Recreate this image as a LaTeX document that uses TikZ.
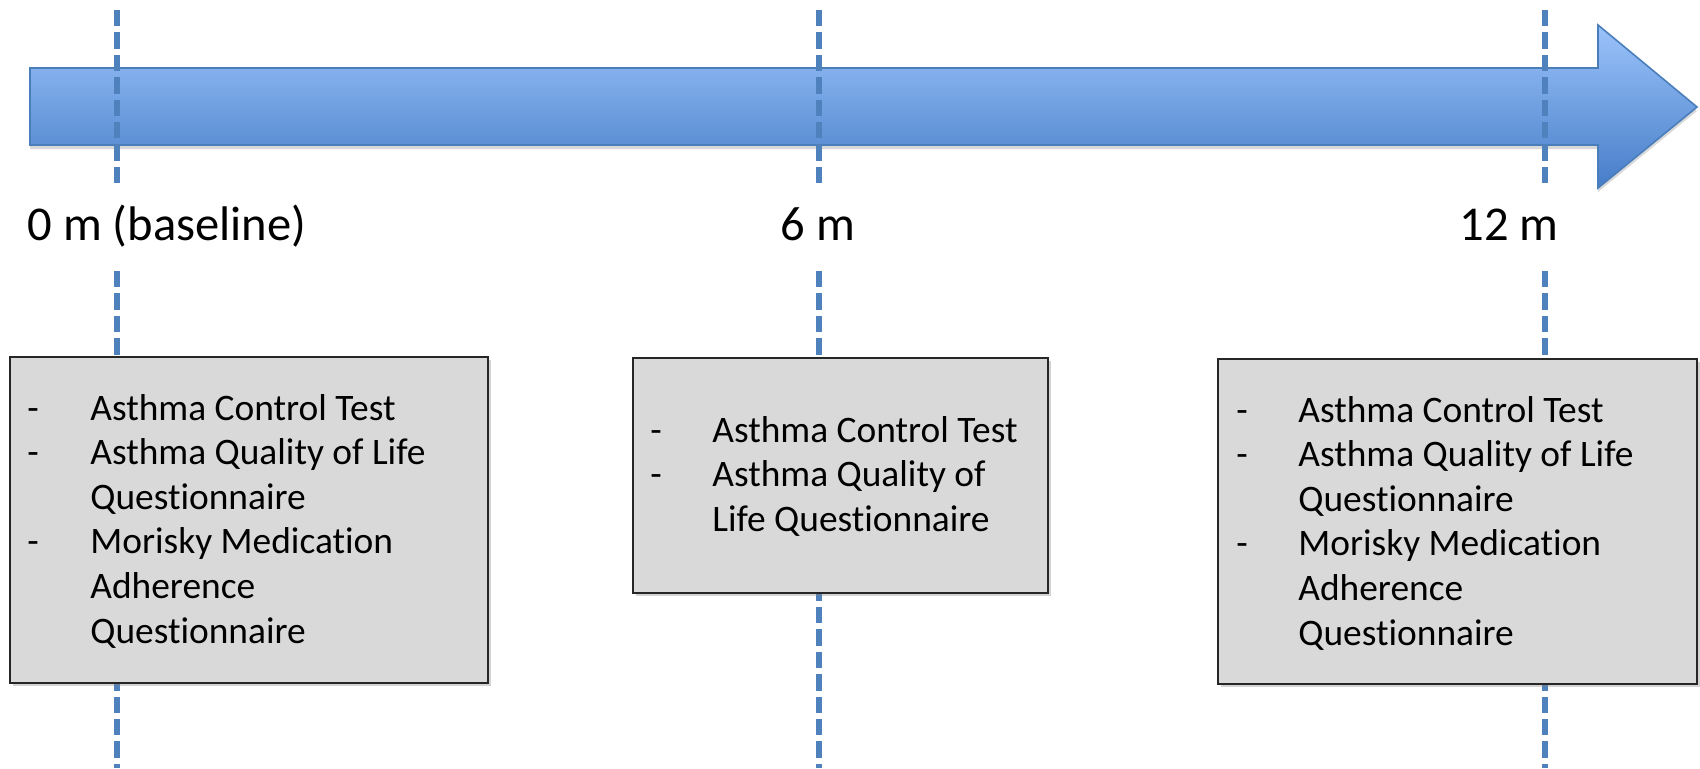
\documentclass[tikz,border=0pt]{standalone}
\usepackage{fontspec}
\setmainfont{Carlito}[Ligatures={NoCommon}]
\usetikzlibrary{shadows}
\definecolor{markblue}{RGB}{79,129,189}
\definecolor{arrowtop}{RGB}{155,195,250}
\definecolor{arrowbot}{RGB}{70,125,200}
\definecolor{arrowedge}{RGB}{74,126,187}
\definecolor{panelfill}{RGB}{217,217,217}
\begin{document}
\begin{tikzpicture}[x=0.5pt,y=-0.5pt,
  marker/.style={draw=markblue,line width=2.9pt,dash pattern=on 8.2pt off 3pt},
  panel/.style={draw=black!85,line width=1pt,fill=panelfill,anchor=north west,inner sep=0pt,
    drop shadow={shadow xshift=1.5pt,shadow yshift=-1.5pt,opacity=0.35}},
  timelabel/.style={anchor=base west,inner sep=0pt,font=\fontsize{24.3}{29}\selectfont},
  items/.style={anchor=base west,inner sep=0pt,font=\fontsize{18.7}{22.3}\selectfont},
]
\useasboundingbox (0,0) rectangle (1700,768);

% timeline arrow
\path[draw=arrowedge,line width=0.8pt,top color=arrowtop,bottom color=arrowbot,
  drop shadow={shadow xshift=0pt,shadow yshift=-2pt,opacity=0.3}]
  (30,68) -- (1598,68) -- (1598,25) -- (1697,107) -- (1598,188) -- (1598,145) -- (30,145) -- cycle;

% time markers
\foreach \n/\x in {0/117,6/819,12/1545}{
  \coordinate (top\n) at (\x,10);
  \coordinate (mid\n) at (\x,185);
  \coordinate (low\n) at (\x,271);
  \coordinate (end\n) at (\x,768);
  \draw[marker] (top\n) -- (mid\n);
  \draw[marker] (low\n) -- (end\n);
}

% time labels
\node[timelabel] (lab0) at (27,240) {0 m (baseline)};
\node[timelabel] (lab6) at (780,240) {6 m};
\node[timelabel] (lab12) at (1459,240) {12 m};

% measurement panels
\node[panel,minimum width=239pt,minimum height=163pt] (box0) at (9,356) {};
\node[panel,minimum width=207.5pt,minimum height=117.5pt] (box6) at (632,357) {};
\node[panel,minimum width=239.5pt,minimum height=162.5pt] (box12) at (1217,358) {};

\node[items] (txt0) at (27,420) {\begin{tabular}[t]{@{}p{31.5pt}@{}l@{}}
-&Asthma Control Test\\
-&Asthma Quality of Life\\
 &Questionnaire\\
-&Morisky Medication\\
 &Adherence\\
 &Questionnaire
\end{tabular}};
\node[items] (txt6) at (650,442) {\begin{tabular}[t]{@{}p{31pt}@{}l@{}}
-&Asthma Control Test\\
-&Asthma Quality of\\
 &Life Questionnaire
\end{tabular}};
\node[items] (txt12) at (1236,422) {\begin{tabular}[t]{@{}p{31pt}@{}l@{}}
-&Asthma Control Test\\
-&Asthma Quality of Life\\
 &Questionnaire\\
-&Morisky Medication\\
 &Adherence\\
 &Questionnaire
\end{tabular}};
\end{tikzpicture}
\end{document}
